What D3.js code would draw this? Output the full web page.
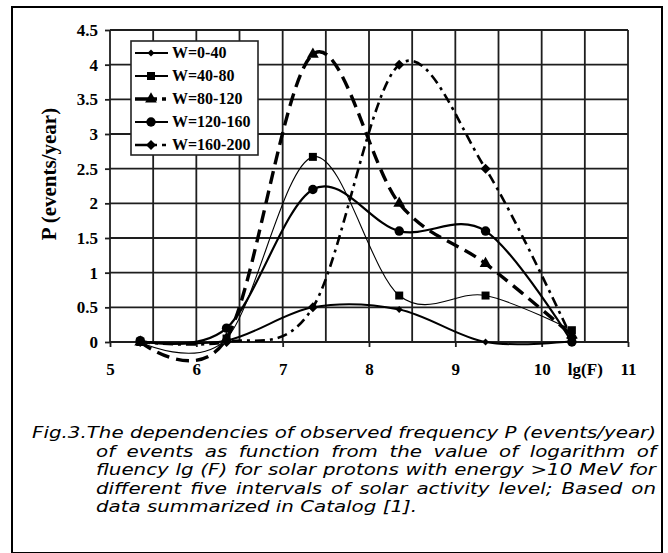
<!DOCTYPE html>
<html>
<head>
<meta charset="utf-8">
<script src="https://cdn.jsdelivr.net/npm/d3@7"></script>
<style>
  body { margin: 0; background: #fff; }
  svg { display: block; }
</style>
</head>
<body>
<script>
// values
var xVals = [5.35, 6.35, 7.35, 8.35, 9.35, 10.35];
var seriesNames = ['W=0-40', 'W=40-80', 'W=80-120', 'W=120-160', 'W=160-200'];
var w0to40 = [0, 0.02, 0.5, 0.47, 0, 0.01];
var w40to80 = [0, 0.05, 2.67, 0.67, 0.67, 0.17];
var w80to120 = [0, 0.05, 4.15, 2.0, 1.13, 0.1];
var w120to160 = [0.02, 0.2, 2.2, 1.6, 1.6, 0.0];
var w160to200 = [0, 0, 0.5, 4.0, 2.5, 0.05];
var seriesValues = [w0to40, w40to80, w80to120, w120to160, w160to200];

var xTickValues = [5, 6, 7, 8, 9, 10, 10.5, 11];
var xTickLabels = ['5', '6', '7', '8', '9', '10', 'lg(F)', '11'];
var yTickValues = [0, 0.5, 1, 1.5, 2, 2.5, 3, 3.5, 4, 4.5];
var yTickLabels = ['0', '0.5', '1', '1.5', '2', '2.5', '3', '3.5', '4', '4.5'];
var yTitle = 'P (events/year)';

var captionLines = [
  'Fig.3.The dependencies of observed frequency P (events/year)',
  'of events as function from the value of logarithm of',
  'fluency lg (F) for solar protons with energy >10 MeV for',
  'different five intervals of solar activity level; Based on',
  'data summarized in Catalog [1].'
];

var totalWidth = 668, totalHeight = 553;
var margin = { top: 30, left: 110 };
var graphWidth = 518, graphHeight = 312;
var gridColor = '#1e1e1e';
var serif = '"Liberation Serif", "Times New Roman", serif';

// line / marker look for each series, same order as seriesNames
var styles = [
  { width: 2, dash: null, legendDash: null, symbol: 'diamond', size: 24 },
  { width: 1.1, dash: null, legendDash: null, symbol: 'square', size: 64 },
  { width: 3.4, dash: '13,7', legendDash: '22,5,4,20', symbol: 'triangle', size: 60 },
  { width: 2.2, dash: null, legendDash: null, symbol: 'circle', size: 70 },
  { width: 2.6, dash: '10,5,3,5', legendDash: '22,5,4,20', symbol: 'diamond', size: 50 }
];

var svg = d3.select('body')
  .append('svg')
  .attr('width', totalWidth)
  .attr('height', totalHeight);

// outer frame
svg.append('rect')
  .attr('x', 12).attr('y', 7)
  .attr('width', 650).attr('height', 546)
  .attr('fill', 'none')
  .attr('stroke', '#000')
  .attr('stroke-width', 2);

var xScale = d3.scaleLinear().domain([5, 11]).range([0, graphWidth]);
var yScale = d3.scaleLinear().domain([0, 4.5]).range([graphHeight, 0]);

var mainGroup = svg.append('g')
  .attr('transform', 'translate(' + margin.left + ',' + margin.top + ')');

// grid every 0.5 in both directions
mainGroup.append('g').selectAll('line')
  .data(d3.range(0, 13).map(function(i) { return 5 + i * 0.5; }))
  .enter().append('line')
  .attr('x1', function(d) { return xScale(d); })
  .attr('x2', function(d) { return xScale(d); })
  .attr('y1', 0).attr('y2', graphHeight)
  .attr('stroke', gridColor).attr('stroke-width', 1.8);

mainGroup.append('g').selectAll('line')
  .data(yTickValues)
  .enter().append('line')
  .attr('x1', 0).attr('x2', graphWidth)
  .attr('y1', function(d) { return yScale(d); })
  .attr('y2', function(d) { return yScale(d); })
  .attr('stroke', gridColor).attr('stroke-width', 1.8);

// axes (labels + outside ticks)
var leftAxis = d3.axisLeft(yScale)
  .tickValues(yTickValues)
  .tickFormat(function(d, i) { return yTickLabels[i]; })
  .tickSize(5).tickPadding(7);
var leftAxisNodes = mainGroup.append('g').call(leftAxis);

var bottomAxis = d3.axisBottom(xScale)
  .tickValues(xTickValues)
  .tickFormat(function(d, i) { return xTickLabels[i]; })
  .tickSize(5).tickPadding(16);
var bottomAxisNodes = mainGroup.append('g')
  .attr('transform', 'translate(0,' + graphHeight + ')')
  .call(bottomAxis);
bottomAxisNodes.selectAll('.tick')
  .filter(function(d) { return d === 10.5; })
  .select('line').remove();

styleAxisNodes(leftAxisNodes);
styleAxisNodes(bottomAxisNodes);

// y title
svg.append('text')
  .text(yTitle)
  .attr('transform', 'translate(56,174) rotate(-90)')
  .attr('text-anchor', 'middle')
  .attr('font-family', serif)
  .attr('font-weight', 'bold')
  .attr('font-size', 21)
  .attr('fill', '#000');

// smoothed lines, like the spreadsheet "smoothed line" option
var line = d3.line()
  .x(function(d) { return xScale(d[0]); })
  .y(function(d) { return yScale(d[1]); })
  .curve(d3.curveCardinal.tension(0));

var seriesData = seriesValues.map(function(vals) {
  return vals.map(function(v, i) { return [xVals[i], v]; });
});

mainGroup.append('g').selectAll('path')
  .data(seriesData)
  .enter().append('path')
  .attr('d', line)
  .attr('fill', 'none')
  .attr('stroke', '#000')
  .attr('stroke-width', function(d, i) { return styles[i].width; })
  .attr('stroke-dasharray', function(d, i) { return styles[i].dash; });

seriesData.forEach(function(pts, i) {
  mainGroup.append('g').selectAll('path')
    .data(pts)
    .enter().append('path')
    .attr('d', markerPath(styles[i]))
    .attr('transform', function(d) {
      return 'translate(' + xScale(d[0]) + ',' + yScale(d[1]) + ')' +
        (styles[i].symbol === 'diamond' ? ' rotate(45)' : '');
    })
    .attr('fill', '#000');
});

// legend
var legend = svg.append('g').attr('transform', 'translate(131,41)');
legend.append('rect')
  .attr('width', 127).attr('height', 114)
  .attr('fill', '#fff')
  .attr('stroke', '#222')
  .attr('stroke-width', 1.6);

var legendItems = legend.selectAll('.item')
  .data(seriesNames)
  .enter().append('g')
  .attr('class', 'item')
  .attr('transform', function(d, i) { return 'translate(0,' + (12 + i * 23) + ')'; });

legendItems.append('line')
  .attr('x1', 4).attr('x2', 37)
  .attr('stroke', '#000')
  .attr('stroke-width', function(d, i) { return Math.max(styles[i].width, 2); })
  .attr('stroke-dasharray', function(d, i) { return styles[i].legendDash; });

legendItems.append('path')
  .attr('d', function(d, i) { return markerPath(styles[i]); })
  .attr('transform', function(d, i) {
    return 'translate(20,0)' + (styles[i].symbol === 'diamond' ? ' rotate(45)' : '');
  })
  .attr('fill', '#000');

legendItems.append('text')
  .text(function(d) { return d; })
  .attr('x', 41)
  .attr('dy', '0.34em')
  .attr('font-family', serif)
  .attr('font-weight', 'bold')
  .attr('font-size', 16)
  .attr('fill', '#000');

// caption, justified like the paper; glyphs are a bit wider than the font
var caption = svg.append('g')
  .attr('font-family', '"DejaVu Sans", Verdana, sans-serif')
  .attr('font-style', 'italic')
  .attr('font-size', 16.5)
  .attr('fill', '#000');

var captionRight = 656;
var probe = caption.append('text').text(captionLines[0]);
var stretch = (captionRight - 32) / probe.node().getComputedTextLength();
var spaceProbe = caption.append('text').text('a a');
var aProbe = caption.append('text').text('aa');
var spaceWidth = (spaceProbe.node().getComputedTextLength() - aProbe.node().getComputedTextLength()) * stretch;
probe.remove(); spaceProbe.remove(); aProbe.remove();

captionLines.forEach(function(text, li) {
  var left = li === 0 ? 32 : 96;
  var baseline = 438 + li * 18.5;
  var words = text.split(' ');
  var nodes = caption.selectAll('.w' + li)
    .data(words)
    .enter().append('text')
    .attr('class', 'w' + li)
    .attr('y', baseline)
    .text(function(d) { return d; });
  var widths = [];
  nodes.each(function() { widths.push(this.getComputedTextLength() * stretch); });
  nodes.attr('textLength', function(d, i) { return widths[i]; })
    .attr('lengthAdjust', 'spacingAndGlyphs');
  var justify = li < captionLines.length - 1;
  var gap = justify ? (captionRight - left - d3.sum(widths)) / (words.length - 1) : spaceWidth;
  var x = left;
  nodes.attr('x', function(d, i) {
    var pos = x;
    x += widths[i] + gap;
    return pos;
  });
});

function markerPath(style) {
  var type = d3.symbolSquare;
  if (style.symbol === 'triangle') type = d3.symbolTriangle;
  if (style.symbol === 'circle') type = d3.symbolCircle;
  return d3.symbol().type(type).size(style.size)();
}

function styleAxisNodes(axisNodes) {
  axisNodes.select('.domain').remove();
  axisNodes.selectAll('.tick line')
    .attr('stroke', gridColor)
    .attr('stroke-width', 1.8);
  axisNodes.selectAll('.tick text')
    .attr('font-family', serif)
    .attr('font-weight', 'bold')
    .attr('font-size', 17)
    .attr('fill', '#000');
}
</script>
</body>
</html>
